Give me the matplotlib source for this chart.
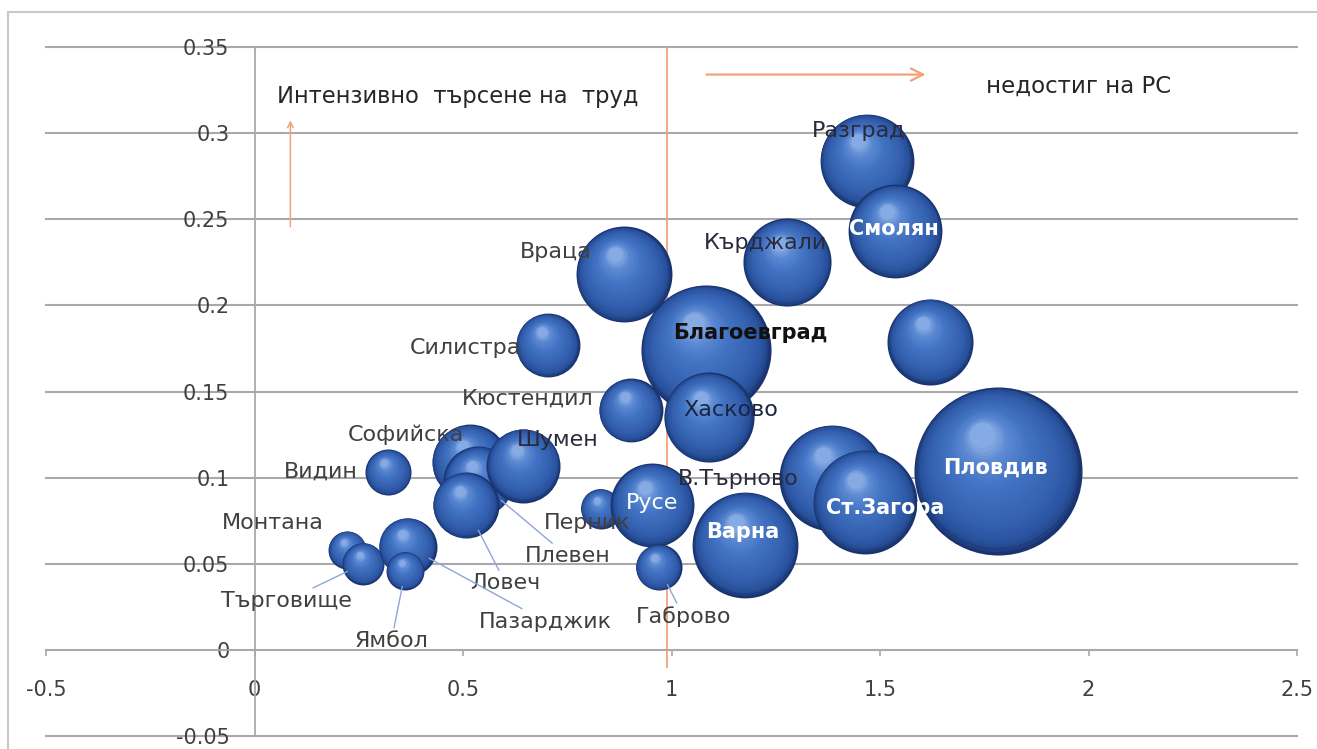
import numpy as np
import matplotlib.pyplot as plt
import matplotlib.transforms as mtransforms
from matplotlib.colors import LinearSegmentedColormap
from matplotlib.patches import Rectangle

plt.rcParams['font.family'] = ['DejaVu Sans']

# data (drawing order = list order)
regions = [
    "Благоевград", "Враца", "Кюстендил", "Хасково", "Кърджали", "Разград",
    "Смолян", "", "Силистра", "Пловдив", "В.Търново", "Ст.Загора", "Варна",
    "Перник", "Русе", "Габрово", "Софийска", "Плевен", "Ловеч", "Шумен",
    "Видин", "Монтана", "Търговище", "Пазарджик", "Ямбол",
]
x_vals = [
    1.082, 0.885, 0.902, 1.089, 1.278, 1.468,
    1.537, 1.621, 0.703, 1.782, 1.386, 1.463, 1.177,
    0.830, 0.954, 0.969, 0.516, 0.537, 0.506, 0.645,
    0.321, 0.223, 0.261, 0.367, 0.362,
]
y_vals = [
    0.174, 0.218, 0.139, 0.135, 0.225, 0.284,
    0.243, 0.179, 0.177, 0.104, 0.100, 0.086, 0.061,
    0.082, 0.084, 0.048, 0.109, 0.098, 0.084, 0.107,
    0.103, 0.058, 0.050, 0.060, 0.046,
]
bubble_vals = [
    42.3, 23.0, 10.2, 20.3, 19.4, 22.0,
    22.0, 18.5, 10.2, 70.6, 28.0, 27.0, 28.0,
    4.0, 17.6, 5.3, 14.4, 12.3, 10.9, 13.7,
    5.3, 3.6, 4.4, 8.4, 3.6,
]

x_ticks = [-0.5, 0, 0.5, 1, 1.5, 2, 2.5]
x_tick_labels = ["-0.5", "0", "0.5", "1", "1.5", "2", "2.5"]
y_ticks = [-0.05, 0, 0.05, 0.1, 0.15, 0.2, 0.25, 0.3, 0.35]
y_tick_labels = ["-0.05", "0", "0.05", "0.1", "0.15", "0.2", "0.25", "0.3", "0.35"]

# label layout: offset from bubble centre in px (right, down), colour, weight, leader line
label_style = {
    "Благоевград": (45, -17, "#111111", "bold", False),
    "Враца": (-68, -22, "#404040", "normal", False),
    "Кюстендил": (-103, -12, "#404040", "normal", False),
    "Хасково": (22, -7, "#1a2540", "normal", False),
    "Кърджали": (-22, -19, "#2a2a3a", "normal", False),
    "Разград": (-8, -30, "#2a2a3a", "normal", False),
    "Смолян": (-2, -2, "white", "bold", False),
    "Силистра": (-82, 3, "#404040", "normal", False),
    "Пловдив": (-2, -3, "white", "bold", False),
    "В.Търново": (-94, 1, "#2a2a3a", "normal", False),
    "Ст.Загора": (21, 6, "white", "bold", False),
    "Варна": (-3, -13, "white", "bold", False),
    "Перник": (-13, 14, "#404040", "normal", False),
    "Русе": (0, -2, "white", "normal", False),
    "Габрово": (25, 49, "#404040", "normal", True),
    "Софийска": (-64, -27, "#404040", "normal", False),
    "Плевен": (89, 75, "#404040", "normal", True),
    "Ловеч": (40, 78, "#404040", "normal", True),
    "Шумен": (34, -26, "#2a2a3a", "normal", False),
    "Видин": (-68, -1, "#404040", "normal", False),
    "Монтана": (-75, -27, "#404040", "normal", False),
    "Търговище": (-77, 37, "#404040", "normal", True),
    "Пазарджик": (138, 75, "#404040", "normal", True),
    "Ямбол": (-14, 70, "#404040", "normal", True),
}

PX = 0.72  # points per pixel at dpi 100
grid_c = "#a9a9a9"
orange = "#f2a27a"

sphere_cmap = LinearSegmentedColormap.from_list(
    "sphere",
    [(0.0, "#1a3470"), (0.08, "#27509a"), (0.25, "#335fae"),
     (0.6, "#4172c2"), (0.85, "#5a88d2"), (1.0, "#86aae3")],
)


def drawBubble(ax, fig, x, y, val, z):
    r_pt = 10 * np.sqrt(val) * PX
    n = 30
    for k in range(n):
        t = k / (n - 1)
        rk = r_pt * (1 - 0.85 * t)
        tr = mtransforms.offset_copy(ax.transData, fig=fig,
                                     x=-0.18 * r_pt * t, y=0.42 * r_pt * t,
                                     units="points")
        ax.scatter([x], [y], s=(2 * rk) ** 2, color=sphere_cmap(t),
                   linewidths=0, transform=tr, zorder=z + k * 1e-4)


fig = plt.figure(figsize=(13.17, 7.49), dpi=100)
ax = fig.add_axes([46 / 1317, 13 / 749, 1251 / 1317, 689 / 749])
ax.set_xlim(-0.5, 2.5)
ax.set_ylim(-0.05, 0.35)

for s in ["top", "right"]:
    ax.spines[s].set_visible(False)
ax.spines["left"].set_position(("data", 0))
ax.spines["bottom"].set_position(("data", 0))
for s in ["left", "bottom"]:
    ax.spines[s].set_color(grid_c)
    ax.spines[s].set_linewidth(1.3)

ax.set_xticks(x_ticks)
ax.set_xticklabels(x_tick_labels)
ax.set_yticks(y_ticks)
ax.set_yticklabels(y_tick_labels)
ax.tick_params(axis="x", direction="out", length=4.5, width=1.2, color=grid_c,
               pad=17, labelsize=15, labelcolor="#404040")
ax.tick_params(axis="y", length=0, pad=18, labelsize=15, labelcolor="#404040")
ax.yaxis.grid(True, color=grid_c, lw=1.5)
ax.set_axisbelow(True)
for gl in ax.get_ygridlines():
    gl.set_clip_on(False)

# reference line and arrows
ax.plot([0.99, 0.99], [-0.01, 0.35], color=orange, lw=1.3, zorder=1.5)
ax.annotate("", xy=(0.086, 0.309), xytext=(0.086, 0.244),
            arrowprops=dict(arrowstyle="->", color=orange, lw=1.1))
ax.annotate("", xy=(1.616, 0.334), xytext=(1.077, 0.334),
            arrowprops=dict(arrowstyle="->", color=orange, lw=1.6,
                            mutation_scale=22))
ax.text(0.055, 0.321, "Интензивно  търсене на  труд", fontsize=16.3,
        color="#262626", va="center", ha="left")
ax.text(1.753, 0.327, "недостиг на РС", fontsize=16.5, color="#262626",
        va="center", ha="left")

for i, (x, y, v) in enumerate(zip(x_vals, y_vals, bubble_vals)):
    drawBubble(ax, fig, x, y, v, 2 + i * 0.01)

for name, x, y, v in zip(regions, x_vals, y_vals, bubble_vals):
    if not name:
        continue
    dx, dy, col, wt, leader = label_style[name]
    r_pt = 10 * np.sqrt(v) * PX
    props = None
    if leader:
        props = dict(arrowstyle="-", color="#8ea6d8", lw=1.0,
                     shrinkA=0, shrinkB=r_pt * 0.85)
    ax.annotate(name, xy=(x, y), xytext=(dx * PX, -dy * PX),
                textcoords="offset points", ha="center", va="center",
                fontsize=15 if wt == "bold" else 16, color=col,
                fontweight=wt, zorder=10, arrowprops=props)

fig.add_artist(Rectangle((8 / 1317, -0.1), 1.2, 1 - 12 / 749 + 0.1,
                         transform=fig.transFigure, fill=False,
                         ec="#c8c8c8", lw=1.5))

fig.savefig("out.png", dpi=100)
